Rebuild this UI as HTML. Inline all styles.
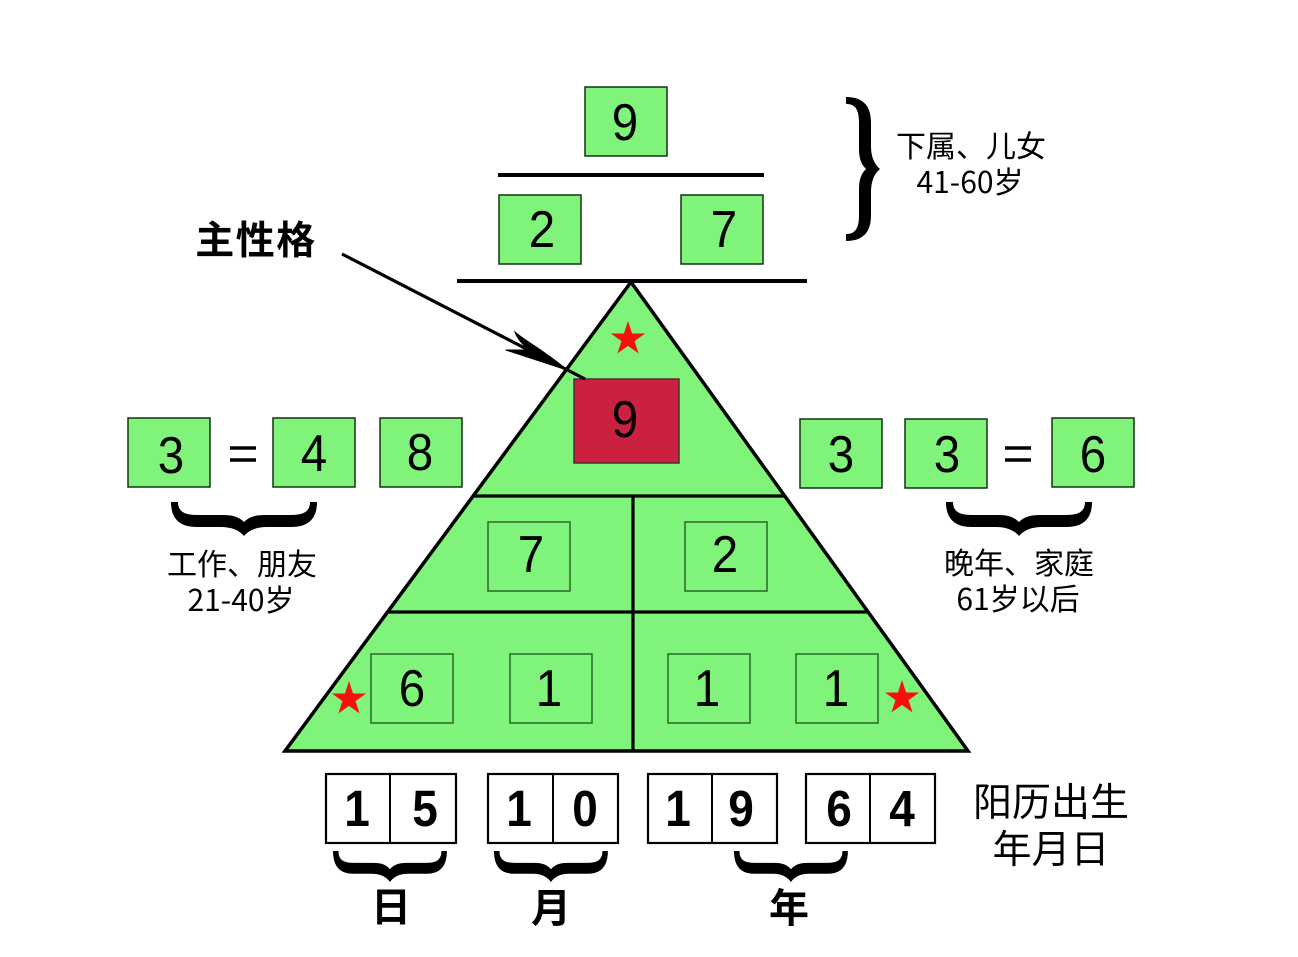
<!DOCTYPE html>
<html><head><meta charset="utf-8"><style>
html,body{margin:0;padding:0;background:#fff;width:1298px;height:957px;overflow:hidden}
svg{display:block}
text{font-family:"Liberation Sans","WenQuanYi Zen Hei","Noto Sans CJK SC",sans-serif;text-anchor:middle;fill:#000}
.d{font-size:50px;font-family:"Liberation Sans",sans-serif}
.b{font-size:50px;font-family:"Liberation Sans",sans-serif;font-weight:bold}
.s{font-size:30px;font-family:"WenQuanYi Zen Hei","Noto Sans CJK SC",sans-serif}
.l{font-size:39px;font-family:"WenQuanYi Zen Hei","Noto Sans CJK SC",sans-serif}
.t{font-size:39px;font-weight:bold;font-family:"Noto Sans CJK SC",sans-serif}
.g{fill:#80F47A;stroke:#123312;stroke-width:1.5}
.i{fill:#80F47A;stroke:#2a662a;stroke-width:1.5}
.w{fill:#fff;stroke:#000;stroke-width:2.2}
</style></head><body>
<svg width="1298" height="957" viewBox="0 0 1298 957" xmlns="http://www.w3.org/2000/svg">
<defs>
<path id="br" d="M0,0H7C7,10 14,13 26,13H52C62,13 68,15 73,20C78,15 84,13 94,13H120C132,13 139,10 139,0H146C146,18 136,25 120,25H96C86,25 78,28 73,34C68,28 60,25 50,25H26C10,25 0,18 0,0Z"/>
<polygon id="st" fill="#f81010" points="0,-1 .225,-.309 .951,-.309 .363,.118 .588,.809 0,.382 -.588,.809 -.363,.118 -.951,-.309 -.225,-.309"/>
</defs>
<rect width="1298" height="957" fill="#fff"/>

<polygon points="631,282 285,751 968,751" fill="#80F47A" stroke="#000" stroke-width="3.5"/>
<path d="M472,496H785M387,612H867M633,496V751" stroke="#000" stroke-width="3.2" fill="none"/>
<path d="M498,175H764M457,281H807" stroke="#000" stroke-width="4" fill="none"/>

<rect class="g" x="585" y="87" width="82" height="69"/>
<rect class="g" x="499" y="195" width="82" height="69"/>
<rect class="g" x="681" y="195" width="82" height="69"/>
<rect class="g" x="128" y="418" width="82" height="69"/>
<rect class="g" x="273" y="418" width="82" height="69"/>
<rect class="g" x="380" y="418" width="82" height="69"/>
<rect class="g" x="800" y="419" width="82" height="69"/>
<rect class="g" x="905" y="419" width="82" height="69"/>
<rect class="g" x="1052" y="418" width="82" height="69"/>
<rect class="i" x="488" y="522" width="82" height="69"/>
<rect class="i" x="685" y="522" width="82" height="69"/>
<rect class="i" x="371" y="654" width="82" height="69"/>
<rect class="i" x="510" y="654" width="82" height="69"/>
<rect class="i" x="668" y="654" width="82" height="69"/>
<rect class="i" x="796" y="654" width="82" height="69"/>
<rect x="574" y="379" width="105" height="84" fill="#C9213F" stroke="#4a3036" stroke-width="1.5"/>

<path d="M342,254L585,379" stroke="#000" stroke-width="3.2" fill="none"/>
<path d="M515,332C525,341 545,351 567,370L505.7,350C515,350 522,350 529,350C522,344 517,338 515,332Z" fill="#000" stroke="#000" stroke-width="1"/>

<use href="#st" transform="translate(628,339) scale(18)"/>
<use href="#st" transform="translate(349,699) scale(18)"/>
<use href="#st" transform="translate(902,698) scale(18)"/>

<text class="d" transform="translate(625 140) scale(.95 1.03)">9</text>
<text class="d" transform="translate(542 247) scale(.95 1.03)">2</text>
<text class="d" transform="translate(724 247) scale(.95 1.03)">7</text>
<text class="d" transform="translate(171 473) scale(.95 1.03)">3</text>
<text class="d" transform="translate(314 471) scale(.95 1.03)">4</text>
<text class="d" transform="translate(420 470) scale(.95 1.03)">8</text>
<text class="d" transform="translate(841 472) scale(.95 1.03)">3</text>
<text class="d" transform="translate(947 472) scale(.95 1.03)">3</text>
<text class="d" transform="translate(1093 472) scale(.95 1.03)">6</text>
<text class="d" transform="translate(625 437) scale(.95 1.03)">9</text>
<text class="d" transform="translate(531 572) scale(.95 1.03)">7</text>
<text class="d" transform="translate(725 572) scale(.95 1.03)">2</text>
<text class="d" transform="translate(412 706) scale(.95 1.03)">6</text>
<text class="d" transform="translate(549 706) scale(.95 1.03)">1</text>
<text class="d" transform="translate(707 706) scale(.95 1.03)">1</text>
<text class="d" transform="translate(836 706) scale(.95 1.03)">1</text>
<path d="M230,448H256M230,460H256M1005,448H1031M1005,460H1031" stroke="#000" stroke-width="3.5" fill="none"/>

<use href="#br" transform="translate(171,502)"/>
<use href="#br" transform="translate(946,502)"/>
<use href="#br" transform="matrix(0 .986 1 0 846 97)"/>
<use href="#br" transform="translate(333,851) scale(.78,.91)"/>
<use href="#br" transform="translate(494,851) scale(.78,.91)"/>
<use href="#br" transform="translate(734,851) scale(.78,.91)"/>

<rect class="w" x="326" y="774" width="130" height="69"/><path d="M390,774V843" stroke="#000" stroke-width="2"/>
<rect class="w" x="488" y="774" width="130" height="69"/><path d="M553,774V843" stroke="#000" stroke-width="2"/>
<rect class="w" x="648" y="774" width="129" height="69"/><path d="M712,774V843" stroke="#000" stroke-width="2"/>
<rect class="w" x="806" y="774" width="129" height="69"/><path d="M870,774V843" stroke="#000" stroke-width="2"/>
<text class="b" transform="translate(357 826) scale(.92 1.02)">1</text>
<text class="b" transform="translate(425 826) scale(.92 1.02)">5</text>
<text class="b" transform="translate(519 826) scale(.92 1.02)">1</text>
<text class="b" transform="translate(585 826) scale(.92 1.02)">0</text>
<text class="b" transform="translate(678 826) scale(.92 1.02)">1</text>
<text class="b" transform="translate(741 826) scale(.92 1.02)">9</text>
<text class="b" transform="translate(839 826) scale(.92 1.02)">6</text>
<text class="b" transform="translate(902 826) scale(.92 1.02)">4</text>

<text class="s" x="971" y="157">下属、儿女</text>
<text class="s" x="970" y="193">41-60岁</text>
<text class="s" x="242" y="575">工作、朋友</text>
<text class="s" x="241" y="611">21-40岁</text>
<text class="s" x="1019" y="574">晚年、家庭</text>
<text class="s" x="1018" y="610">61岁以后</text>
<text class="l" x="1051" y="816">阳历出生</text>
<text class="l" x="1051" y="863">年月日</text>
<text class="t" x="256" y="254" letter-spacing="1.5">主性格</text>
<text class="t" x="391" y="921" style="font-size:40px">日</text>
<text class="t" x="551" y="922" style="font-size:40px">月</text>
<text class="t" x="789" y="922" style="font-size:40px">年</text>
</svg>
</body></html>
